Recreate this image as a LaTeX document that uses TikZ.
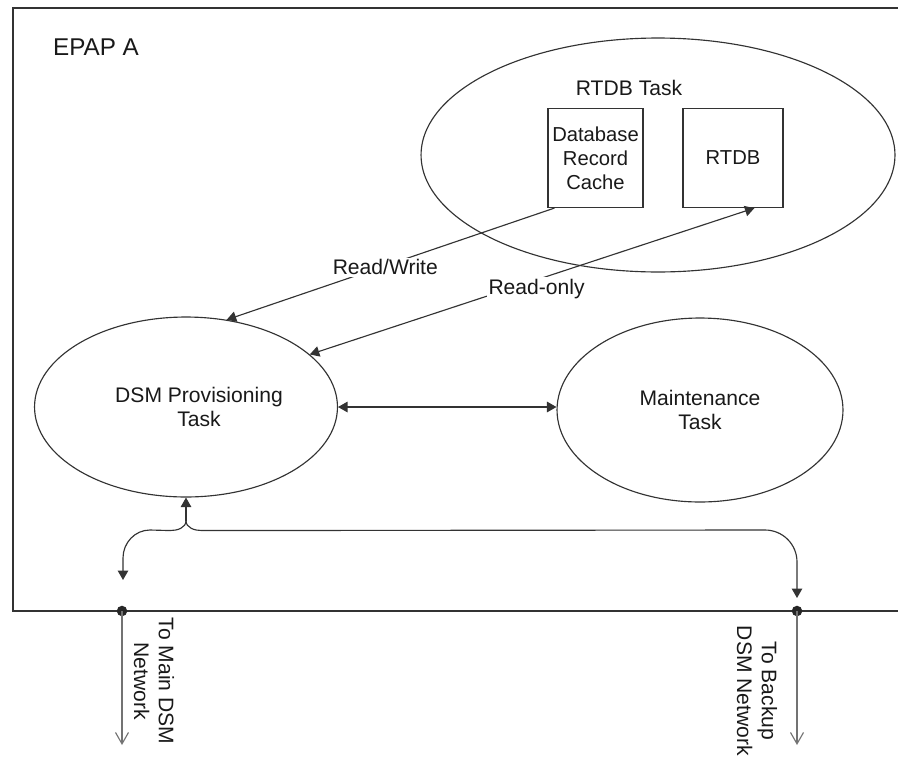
\documentclass[tikz,border=0pt]{standalone}
\usepackage{fontspec}
\setmainfont{Liberation Sans}
\usetikzlibrary{shapes.geometric,calc,arrows.meta}

\begin{document}
\begin{tikzpicture}[x=0.02cm,y=-0.02cm,
      line/.style={draw=black!80, line width=0.65pt},
      arr/.style={line, -{Triangle[length=5.4pt,width=6pt]}},
      darr/.style={line, {Triangle[length=5.4pt,width=6pt]}-{Triangle[length=5.4pt,width=6pt]}},
      feed/.style={draw=black!55, line width=0.65pt, -{Straight Barb[length=6.5pt,width=7.4pt]}},
      txt/.style={font=\fontsize{12}{14}\selectfont, text=black!90, align=center},
      task/.style={ellipse, line, inner sep=0pt, txt},
      store/.style={rectangle, line, inner sep=0pt, txt, font=\fontsize{11.5}{13.6}\selectfont,
            minimum width=1.9cm, minimum height=1.98cm},
      tag/.style={txt, fill=white, inner sep=1pt}
      ]
    \useasboundingbox (0,0) rectangle (898,761);

    % EPAP A frame and bus
    \draw[line] (898,8) -- (13,8) -- (13,611) -- (898,611);
    \node[font=\fontsize{13.8}{16}\selectfont, text=black!90] (epap) at (96,47) {EPAP A};

    \node[task, minimum width=9.48cm, minimum height=4.68cm] (rtdbtask) at (658,155) {};
    \node[txt] (rtdblabel) at (629,88) {RTDB Task};
    \node[store] (cache) at (595.5,158) {Database\\Record\\Cache};
    \node[store, minimum width=2cm] (rtdb) at (733,158) {RTDB};

    \node[task, minimum width=6.06cm, minimum height=3.6cm] (dsm) at (186,407) {};
    \node[txt] (dsmlabel) at (199,407) {DSM Provisioning\\Task};
    \node[task, minimum width=5.72cm, minimum height=3.68cm] (maint) at (700,410) {Maintenance\\Task};

    \draw[arr] ($(cache.south west)+(7,0)$) -- node[tag, xshift=-3pt, yshift=-2pt] {Read/Write} (dsm.65);
    \draw[darr] (dsm.23) -- node[tag, pos=0.51, yshift=-5pt] {Read-only} ($(rtdb.south west)+(72,0)$);
    \draw[darr] (dsm.east) -- (dsm.east -| maint.west);

    % links to the DSM networks
    \coordinate (fork) at ($(dsm.south)+(0,23)$);
    \coordinate (mainend) at (123,580);
    \coordinate (backend) at (797,598);
    \draw[arr] (fork) -- (dsm.south);
    \draw[arr] (fork) to[out=-90,in=0] ++(-16,10) -- (150,530)
        to[out=180,in=90] (123,558) -- (mainend);
    \draw[arr] (fork) to[out=-90,in=180] ++(16,10) -- (765,530)
        to[out=0,in=90] (797,562) -- (backend);

    \coordinate (mainbus) at (122,611);
    \coordinate (backbus) at (797,611);
    \fill[black!85] (mainbus) circle (3pt);
    \fill[black!85] (backbus) circle (3pt);
    \draw[feed] (mainbus) -- ++(0,134);
    \draw[feed] (backbus) -- ++(0,134);

    \node[txt, rotate=-90] (mainlbl) at (154,681) {To Main DSM\\Network};
    \node[txt, rotate=-90] (backlbl) at (757,691) {To Backup\\DSM Network};
  \end{tikzpicture}
\end{document}
